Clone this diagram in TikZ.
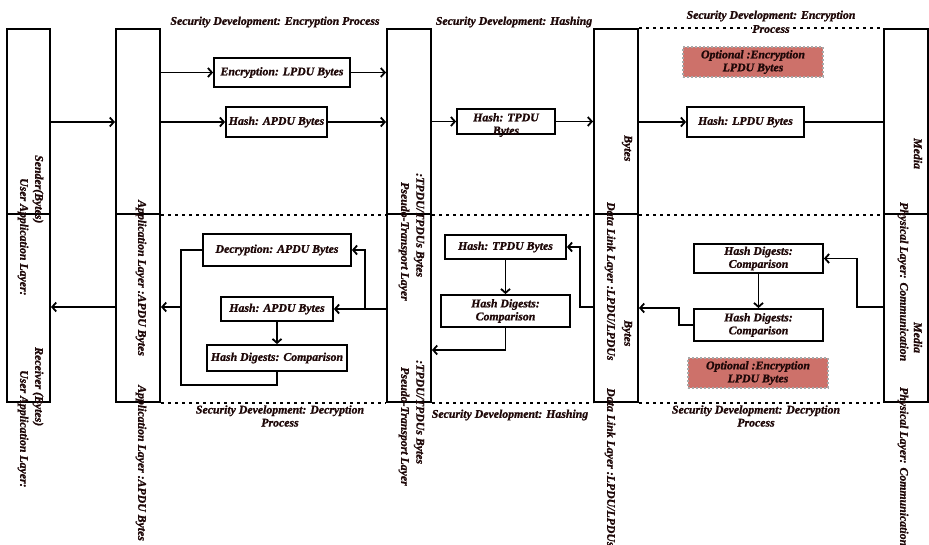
\documentclass[tikz,border=0pt]{standalone}
\usepackage{fontspec}
\setmainfont{Liberation Serif}[BoldItalicFeatures={FakeBold=1.2}]
\usetikzlibrary{arrows.meta}
\definecolor{ink}{HTML}{1E0808}
\definecolor{optfill}{HTML}{CD716A}
\definecolor{optedge}{HTML}{A8A8A8}

\begin{document}
\begin{tikzpicture}[x=1pt,y=-1pt,
  every node/.style={font=\fontsize{11.8}{13}\selectfont\bfseries\itshape, text=ink},
  lane/.style={draw, line width=2pt, inner sep=0pt},
  box/.style={draw, line width=1.8pt, inner sep=0pt, align=center},
  optbox/.style={fill=optfill, draw=optedge, dash pattern=on 2pt off 2pt,
                 line width=1.4pt, inner sep=0pt, align=center},
  flow/.style={line width=1.8pt, -{Straight Barb[length=4pt,width=9pt]}},
  wire/.style={line width=1.8pt},
  sepline/.style={line width=2pt, dash pattern=on 3pt off 4pt},
  vlabel/.style={rotate=-90, anchor=west, inner sep=0pt},
  head/.style={align=center, inner sep=0pt}
]
\useasboundingbox (0,0) rectangle (929,545);

% ---- layer columns, each split into an upper (send) and lower (receive) half
\foreach \n/\x/\w in {L1/28.5/43, L2/138/44, L3/409/44, L4/616/44, L5/906/44}{
  \node[lane, minimum width=\w pt, minimum height=185pt] (\n t) at (\x,121.5) {};
  \node[lane, minimum width=\w pt, minimum height=188pt] (\n b) at (\x,308) {};
}

% ---- dotted boundaries between the columns
\draw[sepline] (L2t.south east) -- (L3t.south west);
\draw[sepline] (L3t.south east) -- (L4t.south west);
\draw[sepline] (L4t.south east) -- (L5t.south west);
\draw[sepline] (L2b.south east) -- (L3b.south west);
\draw[sepline] (L3b.south east) -- (L4b.south west);
\draw[sepline] (L4b.south east) -- (L5b.south west);
\draw[sepline] (L4t.north east) -- (L5t.north west);

% ---- section headings
\node[head] (h23t) at (275,22) {Security Development: Encryption Process};
\node[head] (h34t) at (514,22) {Security Development: Hashing};
\node[head] (h45t) at (771,16) {Security Development: Encryption};
\node[head, fill=white] (h45p) at (771,29) {Process};
\node[head] (h23b) at (280,416) {Security Development: Decryption\\Process};
\node[head] (h34b) at (510,415) {Security Development: Hashing};
\node[head] (h45b) at (756,416) {Security Development: Decryption\\Process};

% ---- column labels (set vertically, repeated in each half)
\node[vlabel] (s1a) at (38,155) {Sender(Bytes)};
\node[vlabel] (s1b) at (23,178) {User Application Layer:};
\node[vlabel] (r1a) at (38,347) {Receiver (Bytes)};
\node[vlabel] (r1b) at (23,370) {User Application Layer:};
\node[vlabel] (a2a) at (141,200) {Application Layer :APDU Bytes};
\node[vlabel] (a2b) at (141,385) {Application Layer :APDU Bytes};
\node[vlabel] (t3a) at (419,173) {:TPDU/TPDUs Bytes};
\node[vlabel] (t3b) at (404,182) {Pseudo-Transport Layer};
\node[vlabel] (t3c) at (419,360) {:TPDU/TPDUs Bytes};
\node[vlabel] (t3d) at (404,367) {Pseudo-Transport Layer};
\node[vlabel] (d4a) at (627,135) {Bytes};
\node[vlabel] (d4b) at (610,202) {Data Link Layer :LPDU/LPDUs};
\node[vlabel] (d4c) at (627,320) {Bytes};
\node[vlabel] (d4d) at (610,388) {Data Link Layer :LPDU/LPDUs};
\node[vlabel] (p5a) at (918,138) {Media};
\node[vlabel] (p5b) at (903,202) {Physical Layer: Communication};
\node[vlabel] (p5c) at (918,322) {Media};
\node[vlabel] (p5d) at (903,387) {Physical Layer: Communication};

% ---- sending side boxes
\node[box, minimum width=136pt, minimum height=29pt] (encL) at (282,72.5) {Encryption: LPDU Bytes};
\node[box, minimum width=101pt, minimum height=30pt] (hashA) at (276.5,122) {Hash: APDU Bytes};
\node[box, minimum width=98pt, minimum height=25pt] (hashT) at (506,121.5) {};
\node[head] (hashTtxt) at (506,125) {Hash: TPDU\\Bytes};
\node[optbox, minimum width=140pt, minimum height=30pt] (optT) at (753,62) {Optional :Encryption\\LPDU Bytes};
\node[box, minimum width=117pt, minimum height=30pt] (hashL) at (745.5,122) {Hash: LPDU Bytes};

% ---- receiving side boxes
\node[box, minimum width=148pt, minimum height=32pt] (decA) at (277,250) {Decryption: APDU Bytes};
\node[box, minimum width=112pt, minimum height=24pt] (hashA2) at (277,309) {Hash: APDU Bytes};
\node[box, minimum width=140pt, minimum height=26pt] (cmpA) at (277,358) {Hash Digests: Comparison};
\node[box, minimum width=121pt, minimum height=24pt] (hashT2) at (505.5,247) {Hash: TPDU Bytes};
\node[box, minimum width=129pt, minimum height=32pt] (cmpT) at (505.5,311) {Hash Digests:\\Comparison};
\node[box, minimum width=129pt, minimum height=29pt] (cmpL1) at (758.5,258.5) {Hash Digests:\\Comparison};
\node[box, minimum width=129pt, minimum height=32pt] (cmpL2) at (758.5,325) {Hash Digests:\\Comparison};
\node[optbox, minimum width=140pt, minimum height=30pt] (optB) at (758,373) {Optional :Encryption\\LPDU Bytes};

% ---- sending flow
\draw[flow] (L1t.east |- hashA) -- (L2t.west |- hashA);
\draw[flow] (L2t.east |- encL) -- (encL.west);
\draw[flow] (encL.east) -- (L3t.west |- encL);
\draw[flow] (L2t.east |- hashA) -- (hashA.west);
\draw[flow] (hashA.east) -- (L3t.west |- hashA);
\draw[flow] (L3t.east |- hashT) -- (hashT.west);
\draw[flow] (hashT.east) -- (L4t.west |- hashT);
\draw[flow] (L4t.east |- hashL) -- (hashL.west);
\draw[wire] (hashL.east) -- (L5t.west |- hashL);

% ---- receiving flow
\coordinate (m5) at (857,307);
\coordinate (m4) at (679,308);
\coordinate (m3) at (580,307);
\coordinate (m3b) at (506,350);
\coordinate (m2) at (365,309);
\coordinate (m1) at (181,385);
\coordinate (m1b) at (181,307);

\draw[flow] (L5b.west |- m5) -- (m5) |- (cmpL1.east);
\draw[flow] (cmpL1.south) -- (cmpL2.north);
\draw[flow] (cmpL2.west) -| (m4) -- (L4b.east |- m4);
\draw[flow] (L4b.west |- m3) -- (m3) |- (hashT2.east);
\draw[flow] (hashT2.south) -- (cmpT.north);
\draw[flow] (cmpT.south) -- (cmpT.south |- m3b) -- (L3b.east |- m3b);
\draw[flow] (L3b.west |- hashA2) -- (hashA2.east);
\draw[flow] (m2) |- (decA.east);
\draw[flow] (hashA2.south) -- (cmpA.north);
\draw[wire] (decA.west) -| (m1) -| (cmpA.south);
\draw[flow] (m1b) -- (L2b.east |- m1b);
\draw[flow] (L2b.west |- m1b) -- (L1b.east |- m1b);
\end{tikzpicture}
\end{document}
